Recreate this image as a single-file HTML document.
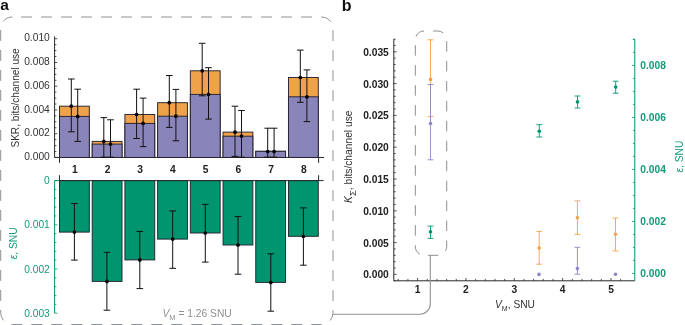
<!DOCTYPE html>
<html><head><meta charset="utf-8"><style>
html,body{margin:0;padding:0;background:#fff;}
svg{display:block;will-change:transform;}
text{font-family:"Liberation Sans",sans-serif;}
</style></head><body>
<svg width="685" height="325" viewBox="0 0 685 325">
<rect width="685" height="325" fill="#fff"/>
<text x="0.2" y="10.4" font-family="Liberation Sans, sans-serif" font-size="15.5" font-weight="bold" fill="#111">a</text>
<text x="341.8" y="10.9" font-family="Liberation Sans, sans-serif" font-size="16" font-weight="bold" fill="#111">b</text>
<path d="M12.35,17 H321.35 A11.65,11.65 0 0 1 333,28.65 V312.85 A11.65,11.65 0 0 1 321.35,324.5 H12.35 A11.65,11.65 0 0 1 0.7,312.85 V28.65 A11.65,11.65 0 0 1 12.35,17 Z" fill="none" stroke="#8c9094" stroke-width="1" stroke-dasharray="10.9 9.1" stroke-dashoffset="11.25"/>
<line x1="54.6" y1="36.4" x2="54.6" y2="157.45" stroke="#2a2a2a" stroke-width="1"/>
<line x1="54.6" y1="157.45" x2="324" y2="157.45" stroke="#2a2a2a" stroke-width="1"/>
<line x1="54.6" y1="157.45" x2="57.3" y2="157.45" stroke="#2a2a2a" stroke-width="0.8"/>
<line x1="54.6" y1="151.51" x2="56.4" y2="151.51" stroke="#2a2a2a" stroke-width="0.8"/>
<line x1="54.6" y1="145.58" x2="56.4" y2="145.58" stroke="#2a2a2a" stroke-width="0.8"/>
<line x1="54.6" y1="139.64" x2="56.4" y2="139.64" stroke="#2a2a2a" stroke-width="0.8"/>
<line x1="54.6" y1="133.71" x2="57.3" y2="133.71" stroke="#2a2a2a" stroke-width="0.8"/>
<line x1="54.6" y1="127.77" x2="56.4" y2="127.77" stroke="#2a2a2a" stroke-width="0.8"/>
<line x1="54.6" y1="121.84" x2="56.4" y2="121.84" stroke="#2a2a2a" stroke-width="0.8"/>
<line x1="54.6" y1="115.9" x2="56.4" y2="115.9" stroke="#2a2a2a" stroke-width="0.8"/>
<line x1="54.6" y1="109.97" x2="57.3" y2="109.97" stroke="#2a2a2a" stroke-width="0.8"/>
<line x1="54.6" y1="104.03" x2="56.4" y2="104.03" stroke="#2a2a2a" stroke-width="0.8"/>
<line x1="54.6" y1="98.1" x2="56.4" y2="98.1" stroke="#2a2a2a" stroke-width="0.8"/>
<line x1="54.6" y1="92.16" x2="56.4" y2="92.16" stroke="#2a2a2a" stroke-width="0.8"/>
<line x1="54.6" y1="86.23" x2="57.3" y2="86.23" stroke="#2a2a2a" stroke-width="0.8"/>
<line x1="54.6" y1="80.29" x2="56.4" y2="80.29" stroke="#2a2a2a" stroke-width="0.8"/>
<line x1="54.6" y1="74.36" x2="56.4" y2="74.36" stroke="#2a2a2a" stroke-width="0.8"/>
<line x1="54.6" y1="68.42" x2="56.4" y2="68.42" stroke="#2a2a2a" stroke-width="0.8"/>
<line x1="54.6" y1="62.49" x2="57.3" y2="62.49" stroke="#2a2a2a" stroke-width="0.8"/>
<line x1="54.6" y1="56.55" x2="56.4" y2="56.55" stroke="#2a2a2a" stroke-width="0.8"/>
<line x1="54.6" y1="50.62" x2="56.4" y2="50.62" stroke="#2a2a2a" stroke-width="0.8"/>
<line x1="54.6" y1="44.69" x2="56.4" y2="44.69" stroke="#2a2a2a" stroke-width="0.8"/>
<line x1="54.6" y1="38.75" x2="57.3" y2="38.75" stroke="#2a2a2a" stroke-width="0.8"/>
<text x="49.8" y="160.05" font-family="Liberation Sans, sans-serif" font-size="10.25" fill="#333333" text-anchor="end">0.000</text>
<text x="49.8" y="136.31" font-family="Liberation Sans, sans-serif" font-size="10.25" fill="#333333" text-anchor="end">0.002</text>
<text x="49.8" y="112.57" font-family="Liberation Sans, sans-serif" font-size="10.25" fill="#333333" text-anchor="end">0.004</text>
<text x="49.8" y="88.83" font-family="Liberation Sans, sans-serif" font-size="10.25" fill="#333333" text-anchor="end">0.006</text>
<text x="49.8" y="65.09" font-family="Liberation Sans, sans-serif" font-size="10.25" fill="#333333" text-anchor="end">0.008</text>
<text x="49.8" y="41.35" font-family="Liberation Sans, sans-serif" font-size="10.25" fill="#333333" text-anchor="end">0.010</text>
<rect x="59.5" y="106.2" width="29.8" height="51.25" fill="#f0a24a" stroke="#262330" stroke-width="0.95"/>
<rect x="59.5" y="116.4" width="29.8" height="41.05" fill="#8984b9" stroke="#262330" stroke-width="0.95"/>
<rect x="92.21" y="141.4" width="29.8" height="16.05" fill="#f0a24a" stroke="#262330" stroke-width="0.95"/>
<rect x="92.21" y="144.1" width="29.8" height="13.35" fill="#8984b9" stroke="#262330" stroke-width="0.95"/>
<rect x="124.92" y="114.5" width="29.8" height="42.95" fill="#f0a24a" stroke="#262330" stroke-width="0.95"/>
<rect x="124.92" y="123.4" width="29.8" height="34.05" fill="#8984b9" stroke="#262330" stroke-width="0.95"/>
<rect x="157.63" y="102.7" width="29.8" height="54.75" fill="#f0a24a" stroke="#262330" stroke-width="0.95"/>
<rect x="157.63" y="116.2" width="29.8" height="41.25" fill="#8984b9" stroke="#262330" stroke-width="0.95"/>
<rect x="190.34" y="70.8" width="29.8" height="86.65" fill="#f0a24a" stroke="#262330" stroke-width="0.95"/>
<rect x="190.34" y="94.4" width="29.8" height="63.05" fill="#8984b9" stroke="#262330" stroke-width="0.95"/>
<rect x="223.05" y="132.1" width="29.8" height="25.35" fill="#f0a24a" stroke="#262330" stroke-width="0.95"/>
<rect x="223.05" y="136.2" width="29.8" height="21.25" fill="#8984b9" stroke="#262330" stroke-width="0.95"/>
<rect x="255.76" y="151.3" width="29.8" height="6.15" fill="#f0a24a" stroke="#262330" stroke-width="0.95"/>
<rect x="255.76" y="151.3" width="29.8" height="6.15" fill="#8984b9" stroke="#262330" stroke-width="0.95"/>
<rect x="288.47" y="77.5" width="29.8" height="79.95" fill="#f0a24a" stroke="#262330" stroke-width="0.95"/>
<rect x="288.47" y="96.8" width="29.8" height="60.65" fill="#8984b9" stroke="#262330" stroke-width="0.95"/>
<line x1="71.3" y1="79.0" x2="71.3" y2="131.8" stroke="#111" stroke-width="1"/>
<line x1="68" y1="79.0" x2="74.6" y2="79.0" stroke="#111" stroke-width="1"/>
<line x1="68" y1="131.8" x2="74.6" y2="131.8" stroke="#111" stroke-width="1"/>
<circle cx="71.3" cy="106.2" r="1.85" fill="#000"/>
<line x1="77.7" y1="89.2" x2="77.7" y2="141.4" stroke="#111" stroke-width="1"/>
<line x1="74.4" y1="89.2" x2="81" y2="89.2" stroke="#111" stroke-width="1"/>
<line x1="74.4" y1="141.4" x2="81" y2="141.4" stroke="#111" stroke-width="1"/>
<circle cx="77.7" cy="116.4" r="1.85" fill="#000"/>
<line x1="103.8" y1="117.6" x2="103.8" y2="157.2" stroke="#111" stroke-width="1"/>
<line x1="100.5" y1="117.6" x2="107.1" y2="117.6" stroke="#111" stroke-width="1"/>
<line x1="100.5" y1="157.2" x2="107.1" y2="157.2" stroke="#111" stroke-width="1"/>
<circle cx="103.8" cy="141.4" r="1.85" fill="#000"/>
<line x1="110.5" y1="119.8" x2="110.5" y2="157.2" stroke="#111" stroke-width="1"/>
<line x1="107.2" y1="119.8" x2="113.8" y2="119.8" stroke="#111" stroke-width="1"/>
<line x1="107.2" y1="157.2" x2="113.8" y2="157.2" stroke="#111" stroke-width="1"/>
<circle cx="110.5" cy="144.1" r="1.85" fill="#000"/>
<line x1="136.6" y1="89.2" x2="136.6" y2="138.5" stroke="#111" stroke-width="1"/>
<line x1="133.3" y1="89.2" x2="139.9" y2="89.2" stroke="#111" stroke-width="1"/>
<line x1="133.3" y1="138.5" x2="139.9" y2="138.5" stroke="#111" stroke-width="1"/>
<circle cx="136.6" cy="114.5" r="1.85" fill="#000"/>
<line x1="143.1" y1="98.1" x2="143.1" y2="146.6" stroke="#111" stroke-width="1"/>
<line x1="139.8" y1="98.1" x2="146.4" y2="98.1" stroke="#111" stroke-width="1"/>
<line x1="139.8" y1="146.6" x2="146.4" y2="146.6" stroke="#111" stroke-width="1"/>
<circle cx="143.1" cy="123.4" r="1.85" fill="#000"/>
<line x1="169.3" y1="75.5" x2="169.3" y2="127.4" stroke="#111" stroke-width="1"/>
<line x1="166" y1="75.5" x2="172.6" y2="75.5" stroke="#111" stroke-width="1"/>
<line x1="166" y1="127.4" x2="172.6" y2="127.4" stroke="#111" stroke-width="1"/>
<circle cx="169.3" cy="102.7" r="1.85" fill="#000"/>
<line x1="175.9" y1="89.4" x2="175.9" y2="140.8" stroke="#111" stroke-width="1"/>
<line x1="172.6" y1="89.4" x2="179.2" y2="89.4" stroke="#111" stroke-width="1"/>
<line x1="172.6" y1="140.8" x2="179.2" y2="140.8" stroke="#111" stroke-width="1"/>
<circle cx="175.9" cy="116.2" r="1.85" fill="#000"/>
<line x1="202.2" y1="43.3" x2="202.2" y2="95.8" stroke="#111" stroke-width="1"/>
<line x1="198.9" y1="43.3" x2="205.5" y2="43.3" stroke="#111" stroke-width="1"/>
<line x1="198.9" y1="95.8" x2="205.5" y2="95.8" stroke="#111" stroke-width="1"/>
<circle cx="202.2" cy="70.8" r="1.85" fill="#000"/>
<line x1="208.5" y1="67.7" x2="208.5" y2="119.1" stroke="#111" stroke-width="1"/>
<line x1="205.2" y1="67.7" x2="211.8" y2="67.7" stroke="#111" stroke-width="1"/>
<line x1="205.2" y1="119.1" x2="211.8" y2="119.1" stroke="#111" stroke-width="1"/>
<circle cx="208.5" cy="94.4" r="1.85" fill="#000"/>
<line x1="235.0" y1="106.2" x2="235.0" y2="156.4" stroke="#111" stroke-width="1"/>
<line x1="231.7" y1="106.2" x2="238.3" y2="106.2" stroke="#111" stroke-width="1"/>
<line x1="231.7" y1="156.4" x2="238.3" y2="156.4" stroke="#111" stroke-width="1"/>
<circle cx="235.0" cy="132.2" r="1.85" fill="#000"/>
<line x1="241.5" y1="110.5" x2="241.5" y2="157.2" stroke="#111" stroke-width="1"/>
<line x1="238.2" y1="110.5" x2="244.8" y2="110.5" stroke="#111" stroke-width="1"/>
<line x1="238.2" y1="157.2" x2="244.8" y2="157.2" stroke="#111" stroke-width="1"/>
<circle cx="241.5" cy="136.1" r="1.85" fill="#000"/>
<line x1="267.7" y1="128.2" x2="267.7" y2="157.2" stroke="#111" stroke-width="1"/>
<line x1="264.4" y1="128.2" x2="271" y2="128.2" stroke="#111" stroke-width="1"/>
<line x1="264.4" y1="157.2" x2="271" y2="157.2" stroke="#111" stroke-width="1"/>
<circle cx="267.7" cy="151.5" r="1.85" fill="#000"/>
<line x1="274.1" y1="128.2" x2="274.1" y2="157.2" stroke="#111" stroke-width="1"/>
<line x1="270.8" y1="128.2" x2="277.4" y2="128.2" stroke="#111" stroke-width="1"/>
<line x1="270.8" y1="157.2" x2="277.4" y2="157.2" stroke="#111" stroke-width="1"/>
<circle cx="274.1" cy="151.5" r="1.85" fill="#000"/>
<line x1="300.3" y1="50.1" x2="300.3" y2="102.3" stroke="#111" stroke-width="1"/>
<line x1="297" y1="50.1" x2="303.6" y2="50.1" stroke="#111" stroke-width="1"/>
<line x1="297" y1="102.3" x2="303.6" y2="102.3" stroke="#111" stroke-width="1"/>
<circle cx="300.3" cy="77.5" r="1.85" fill="#000"/>
<line x1="306.9" y1="69.9" x2="306.9" y2="121.6" stroke="#111" stroke-width="1"/>
<line x1="303.6" y1="69.9" x2="310.2" y2="69.9" stroke="#111" stroke-width="1"/>
<line x1="303.6" y1="121.6" x2="310.2" y2="121.6" stroke="#111" stroke-width="1"/>
<circle cx="306.9" cy="96.8" r="1.85" fill="#000"/>
<line x1="59.5" y1="157.45" x2="59.5" y2="162.9" stroke="#2a2a2a" stroke-width="1"/>
<line x1="59.5" y1="180.6" x2="59.5" y2="175.2" stroke="#2a2a2a" stroke-width="1"/>
<line x1="318.6" y1="157.45" x2="318.6" y2="162.9" stroke="#2a2a2a" stroke-width="1"/>
<line x1="318.6" y1="180.6" x2="318.6" y2="175.2" stroke="#2a2a2a" stroke-width="1"/>
<text x="74.8" y="172.7" font-family="Liberation Sans, sans-serif" font-size="10.25" font-weight="bold" fill="#222" text-anchor="middle">1</text>
<text x="107.51" y="172.7" font-family="Liberation Sans, sans-serif" font-size="10.25" font-weight="bold" fill="#222" text-anchor="middle">2</text>
<text x="140.22" y="172.7" font-family="Liberation Sans, sans-serif" font-size="10.25" font-weight="bold" fill="#222" text-anchor="middle">3</text>
<text x="172.93" y="172.7" font-family="Liberation Sans, sans-serif" font-size="10.25" font-weight="bold" fill="#222" text-anchor="middle">4</text>
<text x="205.64" y="172.7" font-family="Liberation Sans, sans-serif" font-size="10.25" font-weight="bold" fill="#222" text-anchor="middle">5</text>
<text x="238.35" y="172.7" font-family="Liberation Sans, sans-serif" font-size="10.25" font-weight="bold" fill="#222" text-anchor="middle">6</text>
<text x="271.06" y="172.7" font-family="Liberation Sans, sans-serif" font-size="10.25" font-weight="bold" fill="#222" text-anchor="middle">7</text>
<text x="303.77" y="172.7" font-family="Liberation Sans, sans-serif" font-size="10.25" font-weight="bold" fill="#222" text-anchor="middle">8</text>
<line x1="54.6" y1="180.6" x2="54.6" y2="313.2" stroke="#00956f" stroke-width="1"/>
<line x1="54.6" y1="180.6" x2="59.5" y2="180.6" stroke="#00956f" stroke-width="1"/>
<line x1="54.6" y1="180.6" x2="57.3" y2="180.6" stroke="#00956f" stroke-width="0.8"/>
<line x1="54.6" y1="189.44" x2="56.4" y2="189.44" stroke="#00956f" stroke-width="0.8"/>
<line x1="54.6" y1="198.28" x2="56.4" y2="198.28" stroke="#00956f" stroke-width="0.8"/>
<line x1="54.6" y1="207.12" x2="56.4" y2="207.12" stroke="#00956f" stroke-width="0.8"/>
<line x1="54.6" y1="215.96" x2="56.4" y2="215.96" stroke="#00956f" stroke-width="0.8"/>
<line x1="54.6" y1="224.8" x2="57.3" y2="224.8" stroke="#00956f" stroke-width="0.8"/>
<line x1="54.6" y1="233.64" x2="56.4" y2="233.64" stroke="#00956f" stroke-width="0.8"/>
<line x1="54.6" y1="242.48" x2="56.4" y2="242.48" stroke="#00956f" stroke-width="0.8"/>
<line x1="54.6" y1="251.32" x2="56.4" y2="251.32" stroke="#00956f" stroke-width="0.8"/>
<line x1="54.6" y1="260.16" x2="56.4" y2="260.16" stroke="#00956f" stroke-width="0.8"/>
<line x1="54.6" y1="269" x2="57.3" y2="269" stroke="#00956f" stroke-width="0.8"/>
<line x1="54.6" y1="277.84" x2="56.4" y2="277.84" stroke="#00956f" stroke-width="0.8"/>
<line x1="54.6" y1="286.68" x2="56.4" y2="286.68" stroke="#00956f" stroke-width="0.8"/>
<line x1="54.6" y1="295.52" x2="56.4" y2="295.52" stroke="#00956f" stroke-width="0.8"/>
<line x1="54.6" y1="304.36" x2="56.4" y2="304.36" stroke="#00956f" stroke-width="0.8"/>
<line x1="54.6" y1="313.2" x2="57.3" y2="313.2" stroke="#00956f" stroke-width="0.8"/>
<text x="49.8" y="184.2" font-family="Liberation Sans, sans-serif" font-size="10.25" fill="#13997a" text-anchor="end">0</text>
<text x="49.8" y="228.4" font-family="Liberation Sans, sans-serif" font-size="10.25" fill="#13997a" text-anchor="end">0.001</text>
<text x="49.8" y="272.6" font-family="Liberation Sans, sans-serif" font-size="10.25" fill="#13997a" text-anchor="end">0.002</text>
<text x="49.8" y="316.8" font-family="Liberation Sans, sans-serif" font-size="10.25" fill="#13997a" text-anchor="end">0.003</text>
<rect x="59.5" y="180.6" width="29.8" height="51.5" fill="#00956f" stroke="#262330" stroke-width="0.95"/>
<rect x="92.21" y="180.6" width="29.8" height="100.8" fill="#00956f" stroke="#262330" stroke-width="0.95"/>
<rect x="124.92" y="180.6" width="29.8" height="79.3" fill="#00956f" stroke="#262330" stroke-width="0.95"/>
<rect x="157.63" y="180.6" width="29.8" height="58.5" fill="#00956f" stroke="#262330" stroke-width="0.95"/>
<rect x="190.34" y="180.6" width="29.8" height="52.4" fill="#00956f" stroke="#262330" stroke-width="0.95"/>
<rect x="223.05" y="180.6" width="29.8" height="64.4" fill="#00956f" stroke="#262330" stroke-width="0.95"/>
<rect x="255.76" y="180.6" width="29.8" height="101.8" fill="#00956f" stroke="#262330" stroke-width="0.95"/>
<rect x="288.47" y="180.6" width="29.8" height="55.7" fill="#00956f" stroke="#262330" stroke-width="0.95"/>
<line x1="59.5" y1="180.6" x2="323.6" y2="180.6" stroke="#2a2a2a" stroke-width="1"/>
<line x1="74.4" y1="203.5" x2="74.4" y2="260.1" stroke="#111" stroke-width="1"/>
<line x1="71.1" y1="203.5" x2="77.7" y2="203.5" stroke="#111" stroke-width="1"/>
<line x1="71.1" y1="260.1" x2="77.7" y2="260.1" stroke="#111" stroke-width="1"/>
<circle cx="74.4" cy="232.1" r="1.85" fill="#000"/>
<line x1="106.9" y1="252.3" x2="106.9" y2="310.2" stroke="#111" stroke-width="1"/>
<line x1="103.6" y1="252.3" x2="110.2" y2="252.3" stroke="#111" stroke-width="1"/>
<line x1="103.6" y1="310.2" x2="110.2" y2="310.2" stroke="#111" stroke-width="1"/>
<circle cx="106.9" cy="281.4" r="1.85" fill="#000"/>
<line x1="139.8" y1="231.4" x2="139.8" y2="288.6" stroke="#111" stroke-width="1"/>
<line x1="136.5" y1="231.4" x2="143.1" y2="231.4" stroke="#111" stroke-width="1"/>
<line x1="136.5" y1="288.6" x2="143.1" y2="288.6" stroke="#111" stroke-width="1"/>
<circle cx="139.8" cy="259.9" r="1.85" fill="#000"/>
<line x1="172.7" y1="210.9" x2="172.7" y2="268.3" stroke="#111" stroke-width="1"/>
<line x1="169.4" y1="210.9" x2="176" y2="210.9" stroke="#111" stroke-width="1"/>
<line x1="169.4" y1="268.3" x2="176" y2="268.3" stroke="#111" stroke-width="1"/>
<circle cx="172.7" cy="239.1" r="1.85" fill="#000"/>
<line x1="205.3" y1="204.4" x2="205.3" y2="262.1" stroke="#111" stroke-width="1"/>
<line x1="202" y1="204.4" x2="208.6" y2="204.4" stroke="#111" stroke-width="1"/>
<line x1="202" y1="262.1" x2="208.6" y2="262.1" stroke="#111" stroke-width="1"/>
<circle cx="205.3" cy="233.0" r="1.85" fill="#000"/>
<line x1="238.0" y1="216.6" x2="238.0" y2="274.2" stroke="#111" stroke-width="1"/>
<line x1="234.7" y1="216.6" x2="241.3" y2="216.6" stroke="#111" stroke-width="1"/>
<line x1="234.7" y1="274.2" x2="241.3" y2="274.2" stroke="#111" stroke-width="1"/>
<circle cx="238.0" cy="245.0" r="1.85" fill="#000"/>
<line x1="270.8" y1="253.8" x2="270.8" y2="311.2" stroke="#111" stroke-width="1"/>
<line x1="267.5" y1="253.8" x2="274.1" y2="253.8" stroke="#111" stroke-width="1"/>
<line x1="267.5" y1="311.2" x2="274.1" y2="311.2" stroke="#111" stroke-width="1"/>
<circle cx="270.8" cy="282.4" r="1.85" fill="#000"/>
<line x1="303.4" y1="207.9" x2="303.4" y2="265.2" stroke="#111" stroke-width="1"/>
<line x1="300.1" y1="207.9" x2="306.7" y2="207.9" stroke="#111" stroke-width="1"/>
<line x1="300.1" y1="265.2" x2="306.7" y2="265.2" stroke="#111" stroke-width="1"/>
<circle cx="303.4" cy="236.3" r="1.85" fill="#000"/>
<text transform="translate(18.5,147.6) rotate(-90)" font-family="Liberation Sans, sans-serif" font-size="10.1" fill="#333333">SKR, bits/channel use</text>
<text transform="translate(17.3,259.2) rotate(-90)" font-family="Liberation Sans, sans-serif" font-size="10.25" fill="#13997a"><tspan font-style="italic">ε</tspan>, SNU</text>
<text x="162.4" y="316.7" font-family="Liberation Sans, sans-serif" font-size="10.25" fill="#8d9094"><tspan font-style="italic">V</tspan><tspan font-size="7.6" dy="3.3">M</tspan><tspan dy="-3.3"> = 1.26 SNU</tspan></text>
<line x1="393.8" y1="38.9" x2="393.8" y2="280.8" stroke="#2a2a2a" stroke-width="1"/>
<line x1="393.8" y1="280.8" x2="634.8" y2="280.8" stroke="#2a2a2a" stroke-width="1"/>
<line x1="393.8" y1="280.76" x2="395.7" y2="280.76" stroke="#2a2a2a" stroke-width="0.8"/>
<line x1="393.8" y1="274.4" x2="396.6" y2="274.4" stroke="#2a2a2a" stroke-width="0.8"/>
<line x1="393.8" y1="268.04" x2="395.7" y2="268.04" stroke="#2a2a2a" stroke-width="0.8"/>
<line x1="393.8" y1="261.68" x2="395.7" y2="261.68" stroke="#2a2a2a" stroke-width="0.8"/>
<line x1="393.8" y1="255.32" x2="395.7" y2="255.32" stroke="#2a2a2a" stroke-width="0.8"/>
<line x1="393.8" y1="248.96" x2="395.7" y2="248.96" stroke="#2a2a2a" stroke-width="0.8"/>
<line x1="393.8" y1="242.6" x2="396.6" y2="242.6" stroke="#2a2a2a" stroke-width="0.8"/>
<line x1="393.8" y1="236.24" x2="395.7" y2="236.24" stroke="#2a2a2a" stroke-width="0.8"/>
<line x1="393.8" y1="229.88" x2="395.7" y2="229.88" stroke="#2a2a2a" stroke-width="0.8"/>
<line x1="393.8" y1="223.52" x2="395.7" y2="223.52" stroke="#2a2a2a" stroke-width="0.8"/>
<line x1="393.8" y1="217.16" x2="395.7" y2="217.16" stroke="#2a2a2a" stroke-width="0.8"/>
<line x1="393.8" y1="210.8" x2="396.6" y2="210.8" stroke="#2a2a2a" stroke-width="0.8"/>
<line x1="393.8" y1="204.44" x2="395.7" y2="204.44" stroke="#2a2a2a" stroke-width="0.8"/>
<line x1="393.8" y1="198.08" x2="395.7" y2="198.08" stroke="#2a2a2a" stroke-width="0.8"/>
<line x1="393.8" y1="191.72" x2="395.7" y2="191.72" stroke="#2a2a2a" stroke-width="0.8"/>
<line x1="393.8" y1="185.36" x2="395.7" y2="185.36" stroke="#2a2a2a" stroke-width="0.8"/>
<line x1="393.8" y1="179" x2="396.6" y2="179" stroke="#2a2a2a" stroke-width="0.8"/>
<line x1="393.8" y1="172.64" x2="395.7" y2="172.64" stroke="#2a2a2a" stroke-width="0.8"/>
<line x1="393.8" y1="166.28" x2="395.7" y2="166.28" stroke="#2a2a2a" stroke-width="0.8"/>
<line x1="393.8" y1="159.92" x2="395.7" y2="159.92" stroke="#2a2a2a" stroke-width="0.8"/>
<line x1="393.8" y1="153.56" x2="395.7" y2="153.56" stroke="#2a2a2a" stroke-width="0.8"/>
<line x1="393.8" y1="147.2" x2="396.6" y2="147.2" stroke="#2a2a2a" stroke-width="0.8"/>
<line x1="393.8" y1="140.84" x2="395.7" y2="140.84" stroke="#2a2a2a" stroke-width="0.8"/>
<line x1="393.8" y1="134.48" x2="395.7" y2="134.48" stroke="#2a2a2a" stroke-width="0.8"/>
<line x1="393.8" y1="128.12" x2="395.7" y2="128.12" stroke="#2a2a2a" stroke-width="0.8"/>
<line x1="393.8" y1="121.76" x2="395.7" y2="121.76" stroke="#2a2a2a" stroke-width="0.8"/>
<line x1="393.8" y1="115.4" x2="396.6" y2="115.4" stroke="#2a2a2a" stroke-width="0.8"/>
<line x1="393.8" y1="109.04" x2="395.7" y2="109.04" stroke="#2a2a2a" stroke-width="0.8"/>
<line x1="393.8" y1="102.68" x2="395.7" y2="102.68" stroke="#2a2a2a" stroke-width="0.8"/>
<line x1="393.8" y1="96.32" x2="395.7" y2="96.32" stroke="#2a2a2a" stroke-width="0.8"/>
<line x1="393.8" y1="89.96" x2="395.7" y2="89.96" stroke="#2a2a2a" stroke-width="0.8"/>
<line x1="393.8" y1="83.6" x2="396.6" y2="83.6" stroke="#2a2a2a" stroke-width="0.8"/>
<line x1="393.8" y1="77.24" x2="395.7" y2="77.24" stroke="#2a2a2a" stroke-width="0.8"/>
<line x1="393.8" y1="70.88" x2="395.7" y2="70.88" stroke="#2a2a2a" stroke-width="0.8"/>
<line x1="393.8" y1="64.52" x2="395.7" y2="64.52" stroke="#2a2a2a" stroke-width="0.8"/>
<line x1="393.8" y1="58.16" x2="395.7" y2="58.16" stroke="#2a2a2a" stroke-width="0.8"/>
<line x1="393.8" y1="51.8" x2="396.6" y2="51.8" stroke="#2a2a2a" stroke-width="0.8"/>
<line x1="393.8" y1="45.44" x2="395.7" y2="45.44" stroke="#2a2a2a" stroke-width="0.8"/>
<line x1="393.8" y1="39.08" x2="395.7" y2="39.08" stroke="#2a2a2a" stroke-width="0.8"/>
<text x="388.8" y="278.4" font-family="Liberation Sans, sans-serif" font-size="10.25" font-weight="bold" fill="#222" text-anchor="end">0.000</text>
<text x="388.8" y="246.6" font-family="Liberation Sans, sans-serif" font-size="10.25" font-weight="bold" fill="#222" text-anchor="end">0.005</text>
<text x="388.8" y="214.8" font-family="Liberation Sans, sans-serif" font-size="10.25" font-weight="bold" fill="#222" text-anchor="end">0.010</text>
<text x="388.8" y="183" font-family="Liberation Sans, sans-serif" font-size="10.25" font-weight="bold" fill="#222" text-anchor="end">0.015</text>
<text x="388.8" y="151.2" font-family="Liberation Sans, sans-serif" font-size="10.25" font-weight="bold" fill="#222" text-anchor="end">0.020</text>
<text x="388.8" y="119.4" font-family="Liberation Sans, sans-serif" font-size="10.25" font-weight="bold" fill="#222" text-anchor="end">0.025</text>
<text x="388.8" y="87.6" font-family="Liberation Sans, sans-serif" font-size="10.25" font-weight="bold" fill="#222" text-anchor="end">0.030</text>
<text x="388.8" y="55.8" font-family="Liberation Sans, sans-serif" font-size="10.25" font-weight="bold" fill="#222" text-anchor="end">0.035</text>
<line x1="398.26" y1="280.8" x2="398.26" y2="278.9" stroke="#2a2a2a" stroke-width="0.8"/>
<line x1="407.93" y1="280.8" x2="407.93" y2="278.9" stroke="#2a2a2a" stroke-width="0.8"/>
<line x1="417.6" y1="280.8" x2="417.6" y2="278" stroke="#2a2a2a" stroke-width="0.8"/>
<line x1="427.27" y1="280.8" x2="427.27" y2="278.9" stroke="#2a2a2a" stroke-width="0.8"/>
<line x1="436.94" y1="280.8" x2="436.94" y2="278.9" stroke="#2a2a2a" stroke-width="0.8"/>
<line x1="446.61" y1="280.8" x2="446.61" y2="278.9" stroke="#2a2a2a" stroke-width="0.8"/>
<line x1="456.28" y1="280.8" x2="456.28" y2="278.9" stroke="#2a2a2a" stroke-width="0.8"/>
<line x1="465.95" y1="280.8" x2="465.95" y2="278" stroke="#2a2a2a" stroke-width="0.8"/>
<line x1="475.62" y1="280.8" x2="475.62" y2="278.9" stroke="#2a2a2a" stroke-width="0.8"/>
<line x1="485.29" y1="280.8" x2="485.29" y2="278.9" stroke="#2a2a2a" stroke-width="0.8"/>
<line x1="494.96" y1="280.8" x2="494.96" y2="278.9" stroke="#2a2a2a" stroke-width="0.8"/>
<line x1="504.63" y1="280.8" x2="504.63" y2="278.9" stroke="#2a2a2a" stroke-width="0.8"/>
<line x1="514.3" y1="280.8" x2="514.3" y2="278" stroke="#2a2a2a" stroke-width="0.8"/>
<line x1="523.97" y1="280.8" x2="523.97" y2="278.9" stroke="#2a2a2a" stroke-width="0.8"/>
<line x1="533.64" y1="280.8" x2="533.64" y2="278.9" stroke="#2a2a2a" stroke-width="0.8"/>
<line x1="543.31" y1="280.8" x2="543.31" y2="278.9" stroke="#2a2a2a" stroke-width="0.8"/>
<line x1="552.98" y1="280.8" x2="552.98" y2="278.9" stroke="#2a2a2a" stroke-width="0.8"/>
<line x1="562.65" y1="280.8" x2="562.65" y2="278" stroke="#2a2a2a" stroke-width="0.8"/>
<line x1="572.32" y1="280.8" x2="572.32" y2="278.9" stroke="#2a2a2a" stroke-width="0.8"/>
<line x1="581.99" y1="280.8" x2="581.99" y2="278.9" stroke="#2a2a2a" stroke-width="0.8"/>
<line x1="591.66" y1="280.8" x2="591.66" y2="278.9" stroke="#2a2a2a" stroke-width="0.8"/>
<line x1="601.33" y1="280.8" x2="601.33" y2="278.9" stroke="#2a2a2a" stroke-width="0.8"/>
<line x1="611" y1="280.8" x2="611" y2="278" stroke="#2a2a2a" stroke-width="0.8"/>
<line x1="620.67" y1="280.8" x2="620.67" y2="278.9" stroke="#2a2a2a" stroke-width="0.8"/>
<text x="417.6" y="293" font-family="Liberation Sans, sans-serif" font-size="10.25" font-weight="bold" fill="#222" text-anchor="middle">1</text>
<text x="465.95" y="293" font-family="Liberation Sans, sans-serif" font-size="10.25" font-weight="bold" fill="#222" text-anchor="middle">2</text>
<text x="514.3" y="293" font-family="Liberation Sans, sans-serif" font-size="10.25" font-weight="bold" fill="#222" text-anchor="middle">3</text>
<text x="562.65" y="293" font-family="Liberation Sans, sans-serif" font-size="10.25" font-weight="bold" fill="#222" text-anchor="middle">4</text>
<text x="611" y="293" font-family="Liberation Sans, sans-serif" font-size="10.25" font-weight="bold" fill="#222" text-anchor="middle">5</text>
<line x1="634.8" y1="39.2" x2="634.8" y2="280.8" stroke="#00956f" stroke-width="1"/>
<line x1="632" y1="273.4" x2="634.8" y2="273.4" stroke="#00956f" stroke-width="0.8"/>
<line x1="632.9" y1="260.4" x2="634.8" y2="260.4" stroke="#00956f" stroke-width="0.8"/>
<line x1="632.9" y1="247.4" x2="634.8" y2="247.4" stroke="#00956f" stroke-width="0.8"/>
<line x1="632.9" y1="234.4" x2="634.8" y2="234.4" stroke="#00956f" stroke-width="0.8"/>
<line x1="632" y1="221.4" x2="634.8" y2="221.4" stroke="#00956f" stroke-width="0.8"/>
<line x1="632.9" y1="208.4" x2="634.8" y2="208.4" stroke="#00956f" stroke-width="0.8"/>
<line x1="632.9" y1="195.4" x2="634.8" y2="195.4" stroke="#00956f" stroke-width="0.8"/>
<line x1="632.9" y1="182.4" x2="634.8" y2="182.4" stroke="#00956f" stroke-width="0.8"/>
<line x1="632" y1="169.4" x2="634.8" y2="169.4" stroke="#00956f" stroke-width="0.8"/>
<line x1="632.9" y1="156.4" x2="634.8" y2="156.4" stroke="#00956f" stroke-width="0.8"/>
<line x1="632.9" y1="143.4" x2="634.8" y2="143.4" stroke="#00956f" stroke-width="0.8"/>
<line x1="632.9" y1="130.4" x2="634.8" y2="130.4" stroke="#00956f" stroke-width="0.8"/>
<line x1="632" y1="117.4" x2="634.8" y2="117.4" stroke="#00956f" stroke-width="0.8"/>
<line x1="632.9" y1="104.4" x2="634.8" y2="104.4" stroke="#00956f" stroke-width="0.8"/>
<line x1="632.9" y1="91.4" x2="634.8" y2="91.4" stroke="#00956f" stroke-width="0.8"/>
<line x1="632.9" y1="78.4" x2="634.8" y2="78.4" stroke="#00956f" stroke-width="0.8"/>
<line x1="632" y1="65.4" x2="634.8" y2="65.4" stroke="#00956f" stroke-width="0.8"/>
<line x1="632.9" y1="52.4" x2="634.8" y2="52.4" stroke="#00956f" stroke-width="0.8"/>
<line x1="632.9" y1="39.4" x2="634.8" y2="39.4" stroke="#00956f" stroke-width="0.8"/>
<line x1="632.9" y1="39.2" x2="634.8" y2="39.2" stroke="#00956f" stroke-width="0.8"/>
<text x="640.3" y="277" font-family="Liberation Sans, sans-serif" font-size="10.25" font-weight="bold" fill="#13997a">0.000</text>
<text x="640.3" y="225" font-family="Liberation Sans, sans-serif" font-size="10.25" font-weight="bold" fill="#13997a">0.002</text>
<text x="640.3" y="173" font-family="Liberation Sans, sans-serif" font-size="10.25" font-weight="bold" fill="#13997a">0.004</text>
<text x="640.3" y="121" font-family="Liberation Sans, sans-serif" font-size="10.25" font-weight="bold" fill="#13997a">0.006</text>
<text x="640.3" y="69" font-family="Liberation Sans, sans-serif" font-size="10.25" font-weight="bold" fill="#13997a">0.008</text>
<text transform="translate(351.7,202.9) rotate(-90)" font-family="Liberation Sans, sans-serif" font-size="10.25" fill="#333333"><tspan font-style="italic">K</tspan><tspan font-size="9.4" dy="4">Σ</tspan><tspan dy="-4">, bits/channel use</tspan></text>
<text transform="translate(683,172.5) rotate(-90)" font-family="Liberation Sans, sans-serif" font-size="10.25" fill="#13997a"><tspan font-style="italic">ε</tspan>, SNU</text>
<text x="495.0" y="308" font-family="Liberation Sans, sans-serif" font-size="10.25" fill="#333333"><tspan font-style="italic">V</tspan><tspan font-size="7" dy="2.6">M</tspan><tspan dy="-2.6">, SNU</tspan></text>
<line x1="430.5" y1="39.8" x2="430.5" y2="116.6" stroke="#f0a346" stroke-width="0.9"/>
<line x1="427.6" y1="39.8" x2="433.4" y2="39.8" stroke="#f0a346" stroke-width="0.9"/>
<line x1="427.6" y1="116.6" x2="433.4" y2="116.6" stroke="#f0a346" stroke-width="0.9"/>
<circle cx="430.5" cy="79.4" r="1.8" fill="#f0a346"/>
<line x1="430.5" y1="84.5" x2="430.5" y2="159.8" stroke="#8c86c4" stroke-width="0.9"/>
<line x1="427.6" y1="84.5" x2="433.4" y2="84.5" stroke="#8c86c4" stroke-width="0.9"/>
<line x1="427.6" y1="159.8" x2="433.4" y2="159.8" stroke="#8c86c4" stroke-width="0.9"/>
<circle cx="430.5" cy="123.5" r="1.8" fill="#8c86c4"/>
<line x1="430.5" y1="226.1" x2="430.5" y2="238.4" stroke="#00956f" stroke-width="0.9"/>
<line x1="427.6" y1="226.1" x2="433.4" y2="226.1" stroke="#00956f" stroke-width="0.9"/>
<line x1="427.6" y1="238.4" x2="433.4" y2="238.4" stroke="#00956f" stroke-width="0.9"/>
<circle cx="430.5" cy="231.9" r="1.8" fill="#00956f"/>
<line x1="539.2" y1="231.4" x2="539.2" y2="264.2" stroke="#f0a346" stroke-width="0.9"/>
<line x1="536.3" y1="231.4" x2="542.1" y2="231.4" stroke="#f0a346" stroke-width="0.9"/>
<line x1="536.3" y1="264.2" x2="542.1" y2="264.2" stroke="#f0a346" stroke-width="0.9"/>
<circle cx="539.2" cy="248.0" r="1.8" fill="#f0a346"/>
<circle cx="539.0" cy="274.4" r="1.8" fill="#8c86c4"/>
<line x1="539.3" y1="124.7" x2="539.3" y2="137.0" stroke="#00956f" stroke-width="0.9"/>
<line x1="536.4" y1="124.7" x2="542.2" y2="124.7" stroke="#00956f" stroke-width="0.9"/>
<line x1="536.4" y1="137.0" x2="542.2" y2="137.0" stroke="#00956f" stroke-width="0.9"/>
<circle cx="539.3" cy="131.2" r="1.8" fill="#00956f"/>
<line x1="577.4" y1="200.9" x2="577.4" y2="234.4" stroke="#f0a346" stroke-width="0.9"/>
<line x1="574.5" y1="200.9" x2="580.3" y2="200.9" stroke="#f0a346" stroke-width="0.9"/>
<line x1="574.5" y1="234.4" x2="580.3" y2="234.4" stroke="#f0a346" stroke-width="0.9"/>
<circle cx="577.4" cy="217.8" r="1.8" fill="#f0a346"/>
<line x1="577.4" y1="247.3" x2="577.4" y2="274.2" stroke="#8c86c4" stroke-width="0.9"/>
<line x1="574.5" y1="247.3" x2="580.3" y2="247.3" stroke="#8c86c4" stroke-width="0.9"/>
<line x1="574.5" y1="274.2" x2="580.3" y2="274.2" stroke="#8c86c4" stroke-width="0.9"/>
<circle cx="577.4" cy="268.6" r="1.8" fill="#8c86c4"/>
<line x1="577.5" y1="96.0" x2="577.5" y2="108.0" stroke="#00956f" stroke-width="0.9"/>
<line x1="574.6" y1="96.0" x2="580.4" y2="96.0" stroke="#00956f" stroke-width="0.9"/>
<line x1="574.6" y1="108.0" x2="580.4" y2="108.0" stroke="#00956f" stroke-width="0.9"/>
<circle cx="577.5" cy="101.9" r="1.8" fill="#00956f"/>
<line x1="615.5" y1="218.1" x2="615.5" y2="250.9" stroke="#f0a346" stroke-width="0.9"/>
<line x1="612.6" y1="218.1" x2="618.4" y2="218.1" stroke="#f0a346" stroke-width="0.9"/>
<line x1="612.6" y1="250.9" x2="618.4" y2="250.9" stroke="#f0a346" stroke-width="0.9"/>
<circle cx="615.5" cy="234.2" r="1.8" fill="#f0a346"/>
<circle cx="615.5" cy="274.3" r="1.8" fill="#8c86c4"/>
<line x1="615.7" y1="81.2" x2="615.7" y2="93.2" stroke="#00956f" stroke-width="0.9"/>
<line x1="612.8" y1="81.2" x2="618.6" y2="81.2" stroke="#00956f" stroke-width="0.9"/>
<line x1="612.8" y1="93.2" x2="618.6" y2="93.2" stroke="#00956f" stroke-width="0.9"/>
<circle cx="615.7" cy="87.1" r="1.8" fill="#00956f"/>
<path d="M416.02,36.48 A9.0,9.0 0 0 1 424.14,31 M433.2,31.0 H437.7 L437.7,31 A9.0,9.0 0 0 1 443.12,32.81 M446.7,41.1 V51.5 M446.7,61.05 V71.45 M446.7,81 V91.4 M446.7,100.95 V111.35 M446.7,120.9 V131.3 M446.7,140.85 V151.25 M446.7,160.8 V171.2 M446.7,180.75 V191.15 M446.7,200.7 V211.1 M446.7,220.65 V231.05 M446.7,240.6 V246.3 L446.7,246.3 A9.0,9.0 0 0 1 445.49,250.8 M428.1,255.3 H438.3 M415.3,245.2 V246.3 L415.3,246.3 A9.0,9.0 0 0 0 419.8,254.09 M415.3,45.2 V55.7 M415.3,65.2 V75.7 M415.3,85.2 V95.7 M415.3,105.2 V115.7 M415.3,125.2 V135.7 M415.3,145.2 V155.7 M415.3,165.2 V175.7 M415.3,185.2 V195.7 M415.3,205.2 V215.7 M415.3,225.2 V235.7" fill="none" stroke="#8a8e92" stroke-width="1"/>
<path d="M430.3,255.3 V303.7 A10.5,10.5 0 0 1 419.8,314.2 H333.0" fill="none" stroke="#8e9296" stroke-width="1.1"/>
</svg>
</body></html>
